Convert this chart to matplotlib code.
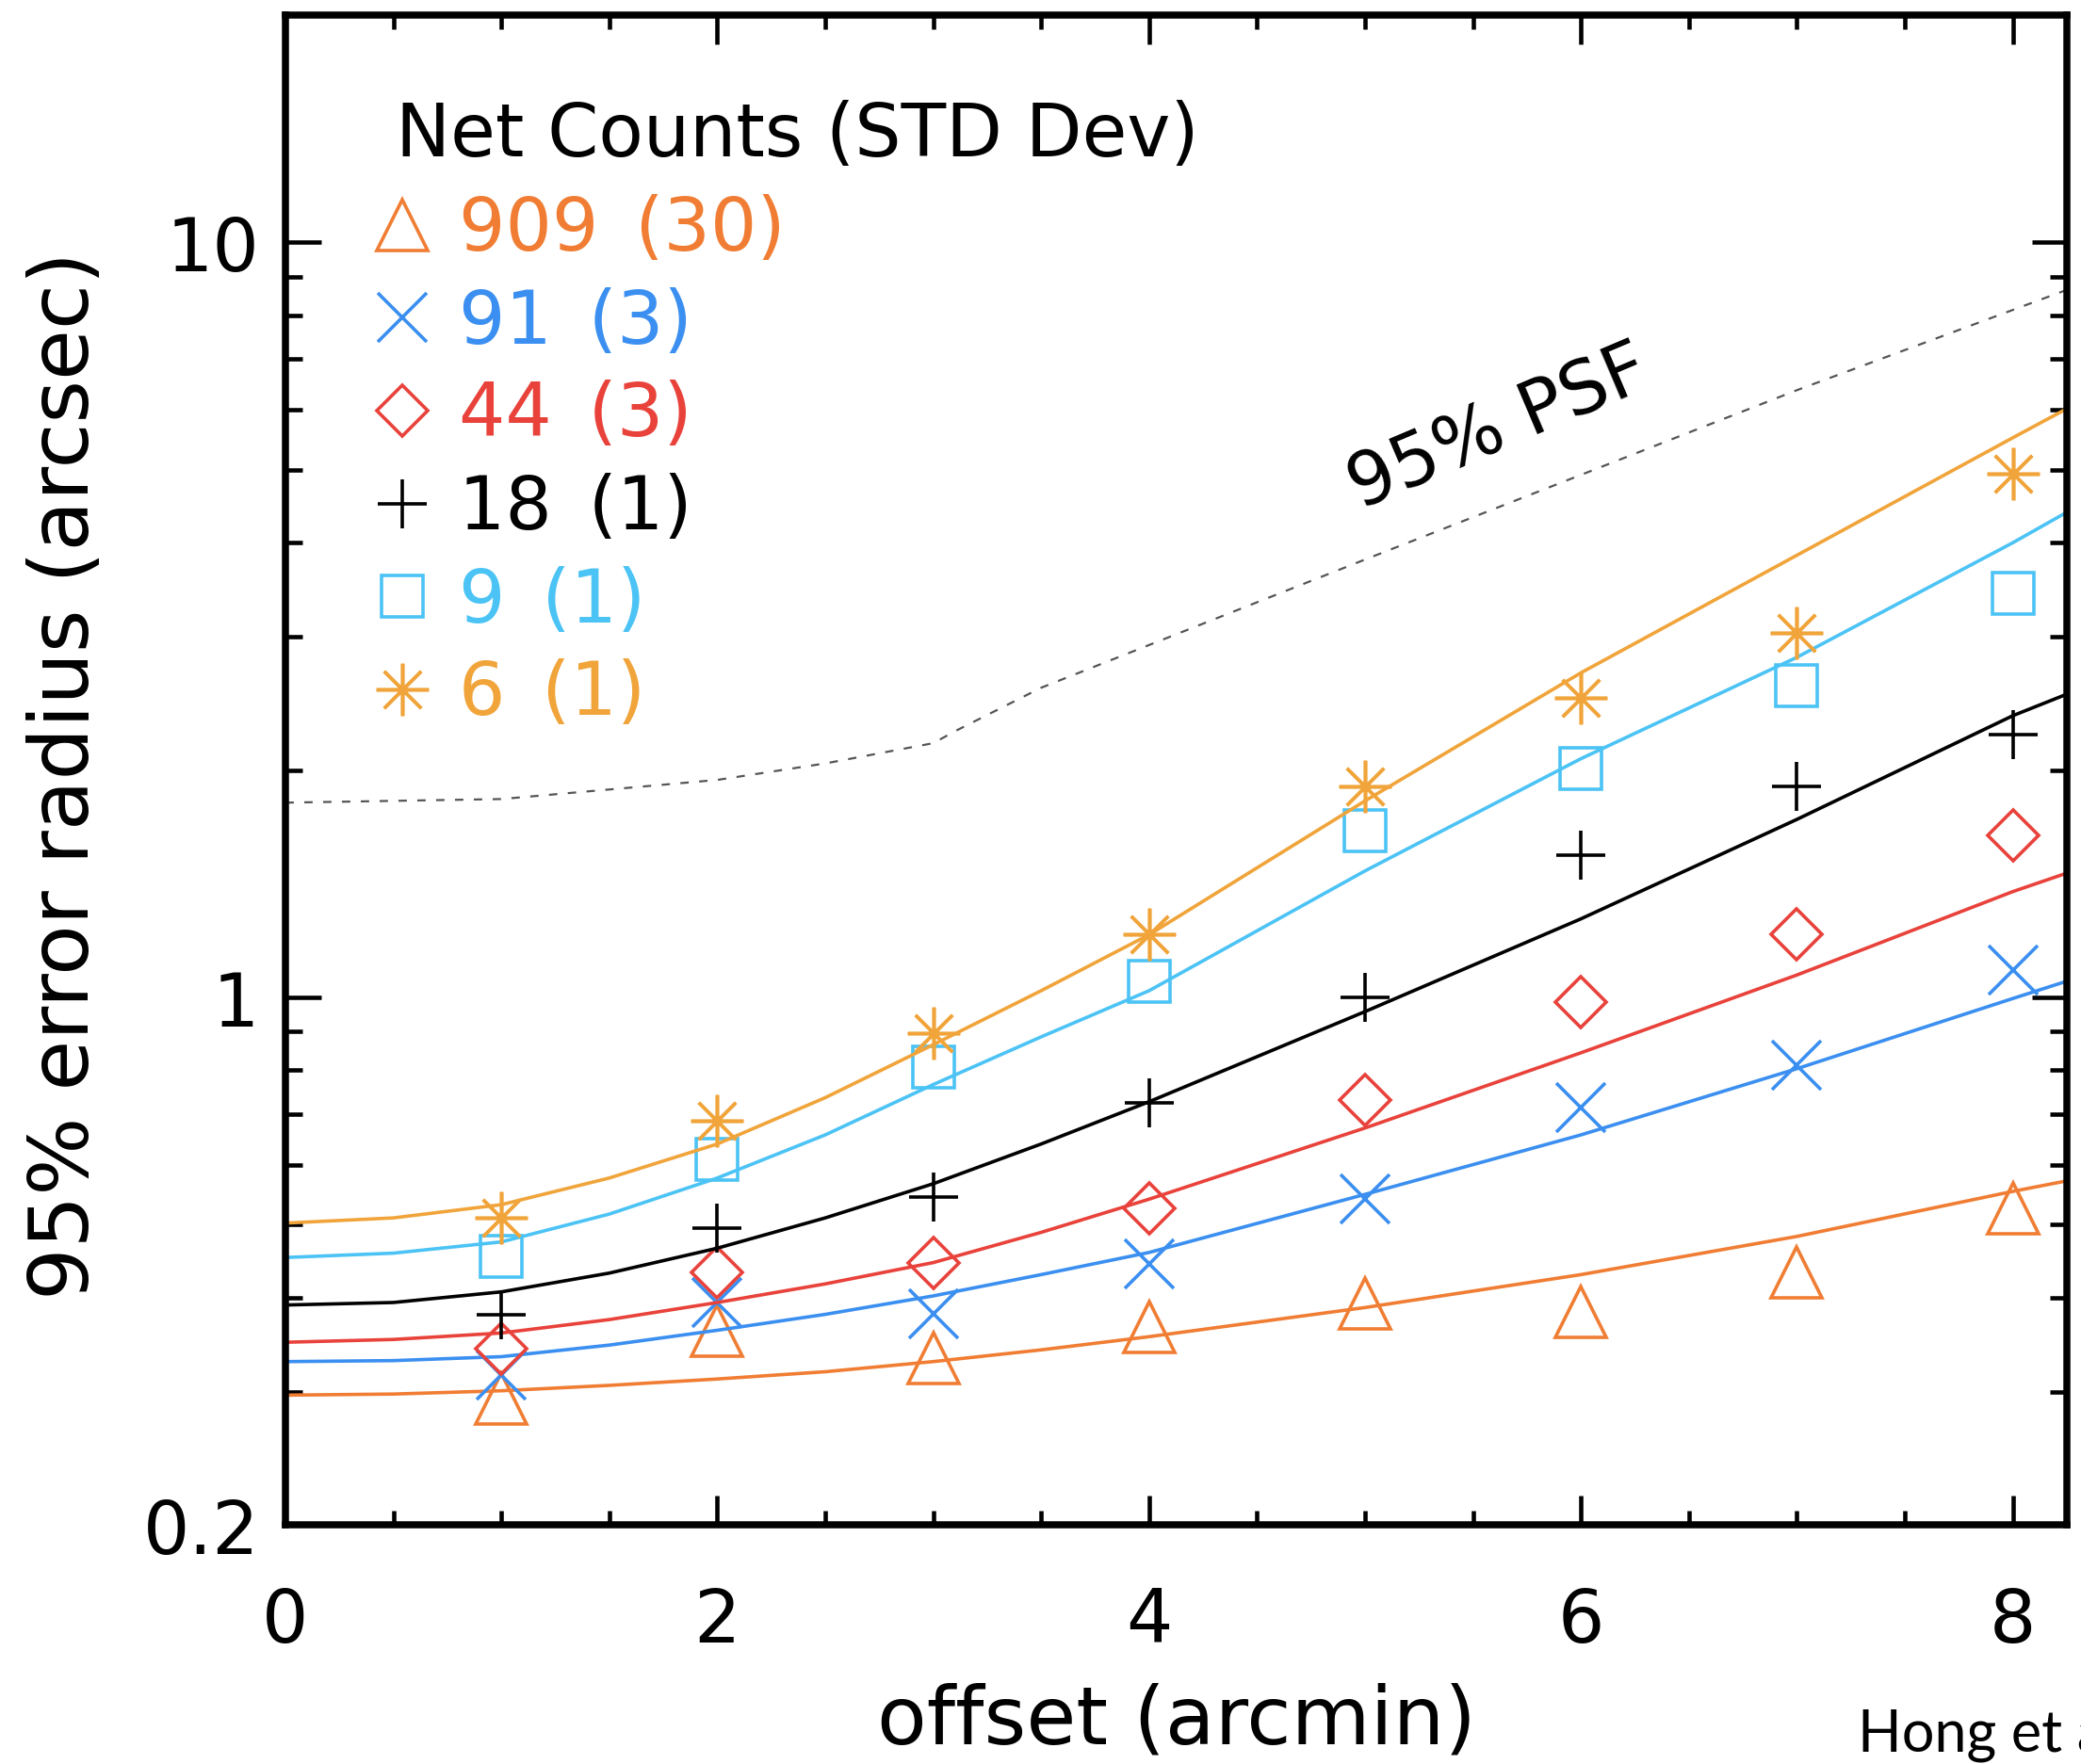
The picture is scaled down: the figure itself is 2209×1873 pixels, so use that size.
import numpy as np
import matplotlib.pyplot as plt
from matplotlib.ticker import FixedLocator, MultipleLocator, NullFormatter, LogLocator

plt.rcParams['font.family'] = ['DejaVu Sans']

# source offsets (arcmin) and measured 95% error radii (arcsec)
offset = [1, 2, 3, 4, 5, 6, 7, 8]
r_909 = [0.294, 0.361, 0.333, 0.366, 0.393, 0.383, 0.432, 0.525]
r_91 = [0.316, 0.394, 0.381, 0.443, 0.540, 0.715, 0.813, 1.085]
r_44 = [0.342, 0.432, 0.444, 0.525, 0.731, 0.984, 1.21, 1.64]
r_18 = [0.380, 0.494, 0.544, 0.724, 1.00, 1.54, 1.90, 2.23]
r_9 = [0.454, 0.610, 0.808, 1.05, 1.66, 2.01, 2.59, 3.43]
r_6 = [0.510, 0.685, 0.897, 1.21, 1.90, 2.49, 3.04, 4.93]

# fitted relations, sampled along offset
fit_x = [0, 0.5, 1, 1.5, 2, 2.5, 3, 3.5, 4, 5, 6, 7, 8, 8.25]
fit_909 = [0.297, 0.298, 0.301, 0.306, 0.312, 0.319, 0.329, 0.341, 0.355, 0.388, 0.429, 0.482, 0.553, 0.571]
fit_91 = [0.329, 0.330, 0.334, 0.346, 0.362, 0.380, 0.402, 0.429, 0.459, 0.548, 0.657, 0.804, 0.996, 1.05]
fit_44 = [0.349, 0.352, 0.359, 0.374, 0.394, 0.417, 0.445, 0.488, 0.540, 0.671, 0.844, 1.07, 1.38, 1.46]
fit_18 = [0.391, 0.394, 0.407, 0.431, 0.465, 0.510, 0.566, 0.639, 0.727, 0.957, 1.27, 1.72, 2.36, 2.52]
fit_9 = [0.452, 0.458, 0.474, 0.516, 0.576, 0.657, 0.766, 0.886, 1.02, 1.47, 2.07, 2.82, 4.00, 4.39]
fit_6 = [0.502, 0.510, 0.531, 0.576, 0.639, 0.736, 0.865, 1.02, 1.21, 1.82, 2.69, 3.85, 5.51, 6.02]

# 95% PSF radius
psf_x = [0, 1, 2, 2.5, 3, 3.1, 3.5, 5, 7, 8.25]
psf_r = [1.81, 1.83, 1.94, 2.04, 2.17, 2.25, 2.57, 3.80, 6.37, 8.65]

counts = ['909', '91', '44', '18', '9', '6']
std_dev = ['30', '3', '3', '1', '1', '1']
colors = ['#f07d33', '#3b8ff0', '#e8423b', 'black', '#4cc3f5', '#f0a43a']
markers = ['^', 'x', 'D', '+', 's', (8, 2, 0)]
msizes = [39, 37, 27, 37, 32, 40]
points = [r_909, r_91, r_44, r_18, r_9, r_6]
fits = [fit_909, fit_91, fit_44, fit_18, fit_9, fit_6]

fig = plt.figure(figsize=(22.09, 18.74), dpi=100)
ax = fig.add_axes([303/2209, 1 - 1620/1874, 1891/2209, 1603/1874])

ax.plot(psf_x, psf_r, color='#555555', lw=1.6, ls=(0, (4, 5)))
ax.text(5.62, 5.69, '95% PSF', fontsize=56, rotation=23,
        rotation_mode='anchor', ha='center', va='center')

for pts, fit, c, m, ms in zip(points, fits, colors, markers, msizes):
    ax.plot(fit_x, fit, color=c, lw=2.6)
    ax.plot(offset, pts, ls='none', marker=m, ms=ms, mfc='none',
            mec=c, mew=2.6)

# legend drawn by hand, one coloured row per series
ax.text(0.062, 0.907, 'Net Counts (STD Dev)', transform=ax.transAxes,
        fontsize=56, va='baseline')
rows = zip(counts, std_dev, colors, markers, msizes)
for i, (n, sd, c, m, ms) in enumerate(rows):
    yb = 0.8445 - i * 0.0615
    ax.plot([0.0655], [yb + 0.0165], transform=ax.transAxes, ls='none',
            marker=m, ms=ms, mfc='none', mec=c, mew=2.6, clip_on=False)
    ax.text(0.0972, yb, f'{n}\u2002({sd})', transform=ax.transAxes, color=c,
            fontsize=56, va='baseline')

ax.set_yscale('log')
ax.set_xlim(0, 8.25)
ax.set_ylim(0.2, 20)

ax.xaxis.set_major_locator(FixedLocator([0, 2, 4, 6, 8]))
ax.xaxis.set_minor_locator(MultipleLocator(0.5))
ax.set_xticklabels(['0', '2', '4', '6', '8'])
ax.yaxis.set_major_locator(FixedLocator([0.2, 1, 10]))
ax.set_yticklabels(['0.2', '1', '10'])
ax.yaxis.set_minor_locator(LogLocator(base=10, subs=np.arange(2, 10)))
ax.yaxis.set_minor_formatter(NullFormatter())

ax.tick_params(which='both', direction='in', top=True, right=True,
               width=3.3, labelsize=56, color='black')
ax.tick_params(axis='x', which='major', length=22, pad=46)
ax.tick_params(axis='x', which='minor', length=11)
ax.tick_params(axis='y', which='major', length=27, pad=20)
ax.tick_params(axis='y', which='minor', length=13)
for sp in ax.spines.values():
    sp.set_linewidth(5.4)

ax.set_xlabel('offset (arcmin)', fontsize=62, va='center')
ax.xaxis.set_label_coords(0.5, -0.130)
ax.set_ylabel('95% error radius (arcsec)', fontsize=63, va='center')
ax.yaxis.set_label_coords(-0.123, 0.4966)

fig.text(0.8926, 0.0078, 'Hong et al.', fontsize=44, family=['Lato', 'DejaVu Sans'],
         va='baseline')

fig.savefig('out.png', dpi=100)
